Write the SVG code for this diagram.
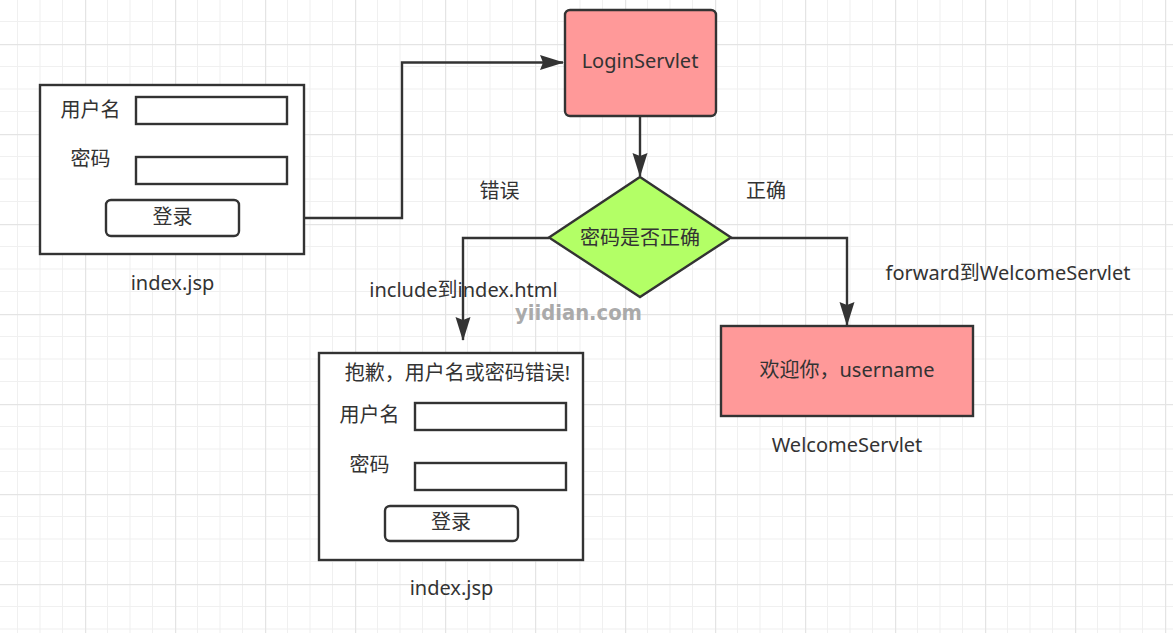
<svg xmlns="http://www.w3.org/2000/svg" width="1173" height="633" viewBox="0 0 1173 633">
<style>
.t{font-family:"Noto Sans","Noto Sans CJK SC",sans-serif;font-size:20px;fill:#333}
.m{text-anchor:middle}
.box{fill:#fff;stroke:#333;stroke-width:2.4}
.inp{fill:#fff;stroke:#333;stroke-width:2.4}
.btn{fill:#fff;stroke:#333;stroke-width:2.4}
.pink{fill:#ff9999;stroke:#333;stroke-width:2.4}
.green{fill:#b3ff66;stroke:#333;stroke-width:2.4}
.conn{fill:none;stroke:#333;stroke-width:2.4}
.wm{font-family:"DejaVu Sans",sans-serif;font-weight:bold;font-size:21px;fill:#aaaaaa}
</style>
<defs>
<pattern id="grid" patternUnits="userSpaceOnUse" x="-5" y="-46" width="90" height="90">
<rect width="90" height="90" fill="#fff"/>
<rect x="22" y="0" width="1" height="90" fill="#f0f0f0"/>
<rect x="44.5" y="0" width="1" height="90" fill="#f0f0f0"/>
<rect x="67" y="0" width="1" height="90" fill="#f0f0f0"/>
<rect x="0" y="22" width="90" height="1" fill="#f0f0f0"/>
<rect x="0" y="44.5" width="90" height="1" fill="#f0f0f0"/>
<rect x="0" y="67" width="90" height="1" fill="#f0f0f0"/>
<rect x="0" y="0" width="1.2" height="90" fill="#e4e4e4"/>
<rect x="0" y="0" width="90" height="1.2" fill="#e4e4e4"/>
</pattern>
<marker id="arr" markerUnits="userSpaceOnUse" markerWidth="25" markerHeight="16" refX="23" refY="7.5" orient="auto" viewBox="0 0 25 15">
<path d="M0,0 L24,7.5 L0,15 L3,7.5 z" fill="#333"/>
</marker>
</defs>
<rect width="1173" height="633" fill="url(#grid)"/>

<g id="connectors">
<path class="conn" d="M239,218 H402 V62.5 H563" marker-end="url(#arr)"/>
<path class="conn" d="M640,116 V176" marker-end="url(#arr)"/>
<path class="conn" d="M549,238 H463 V340" marker-end="url(#arr)"/>
<path class="conn" d="M731,238 H847 V325" marker-end="url(#arr)"/>
</g>

<g id="form-index">
<rect class="box" x="40" y="85" width="264" height="169"/>
<text class="t m" x="90.5" y="117">用户名</text>
<rect class="inp" x="136" y="97" width="151" height="27"/>
<text class="t m" x="90.5" y="166">密码</text>
<rect class="inp" x="136" y="157" width="151" height="27"/>
<rect class="btn" x="106" y="200" width="133" height="36" rx="5"/>
<text class="t m" x="172.5" y="224">登录</text>
<text class="t m" x="172.5" y="290">index.jsp</text>
</g>

<g id="login-servlet">
<rect class="pink" x="565" y="10" width="151" height="106" rx="5"/>
<text class="t m" x="640" y="68">LoginServlet</text>
</g>

<g id="decision">
<polygon class="green" points="640,177 731,237.5 640,297 549,237.5"/>
<text class="t m" x="640" y="244.5">密码是否正确</text>
</g>

<g id="labels">
<text class="t m" x="499.5" y="198">错误</text>
<text class="t m" x="766" y="197.5">正确</text>
<text class="t m" x="463.5" y="297">include到index.html</text>
<text class="t m" x="1008" y="280">forward到WelcomeServlet</text>
<text class="wm" x="515" y="320" textLength="127" lengthAdjust="spacingAndGlyphs">yiidian.com</text>
</g>

<g id="form-error">
<rect class="box" x="319" y="353" width="264" height="207"/>
<text class="t m" x="457.5" y="380">抱歉，用户名或密码错误!</text>
<text class="t m" x="369.5" y="422">用户名</text>
<rect class="inp" x="415" y="403" width="151" height="27"/>
<text class="t m" x="369.5" y="472">密码</text>
<rect class="inp" x="415" y="463" width="151" height="27"/>
<rect class="btn" x="385" y="506" width="133" height="35" rx="5"/>
<text class="t m" x="451" y="529">登录</text>
<text class="t m" x="451.5" y="595">index.jsp</text>
</g>

<g id="welcome-servlet">
<rect class="pink" x="721" y="326" width="252" height="90"/>
<text class="t m" x="847" y="377">欢迎你，username</text>
<text class="t m" x="847" y="451.5">WelcomeServlet</text>
</g>
</svg>
